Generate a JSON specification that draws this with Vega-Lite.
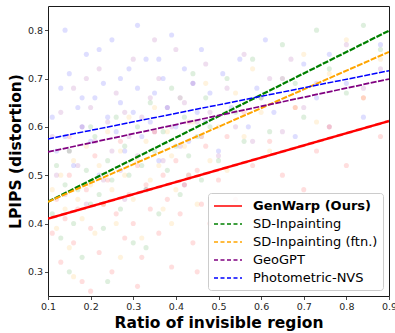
{
  "$schema": "https://vega.github.io/schema/vega-lite/v6.json",
  "width": 341,
  "height": 290,
  "autosize": "none",
  "padding": {"left": 48, "top": 6, "right": 6, "bottom": 37},
  "background": "white",
  "config": {
    "view": {"stroke": "#1a1a1a", "strokeWidth": 1},
    "font": "DejaVu Sans",
    "axis": {
      "grid": false,
      "domain": false,
      "labelFlush": false,
      "tickColor": "#1a1a1a",
      "tickSize": 3.5,
      "tickWidth": 0.8,
      "labelFont": "DejaVu Sans",
      "labelFontSize": 9.5,
      "labelColor": "#262626",
      "labelPadding": 2,
      "titleFont": "DejaVu Sans",
      "titleFontSize": 15.5,
      "titleFontWeight": "bold",
      "titleColor": "black"
    }
  },
  "datasets": {
    "pts": [
      {"m":"B","x":0.11,"y":0.62},{"m":"B","x":0.12,"y":0.55},{"m":"B","x":0.13,"y":0.68},{"m":"B","x":0.14,"y":0.58},{"m":"B","x":0.15,"y":0.71},{"m":"B","x":0.16,"y":0.52},{"m":"B","x":0.17,"y":0.64},{"m":"B","x":0.18,"y":0.6},{"m":"B","x":0.19,"y":0.75},{"m":"B","x":0.2,"y":0.57},{"m":"B","x":0.21,"y":0.66},{"m":"B","x":0.22,"y":0.5},{"m":"B","x":0.23,"y":0.69},{"m":"B","x":0.24,"y":0.62},{"m":"B","x":0.25,"y":0.78},{"m":"B","x":0.26,"y":0.59},{"m":"B","x":0.27,"y":0.65},{"m":"B","x":0.28,"y":0.55},{"m":"B","x":0.29,"y":0.72},{"m":"B","x":0.3,"y":0.63},{"m":"B","x":0.31,"y":0.68},{"m":"B","x":0.32,"y":0.58},{"m":"B","x":0.33,"y":0.74},{"m":"B","x":0.34,"y":0.61},{"m":"B","x":0.35,"y":0.67},{"m":"B","x":0.36,"y":0.53},{"m":"B","x":0.37,"y":0.7},{"m":"B","x":0.38,"y":0.64},{"m":"B","x":0.39,"y":0.79},{"m":"B","x":0.4,"y":0.6},{"m":"B","x":0.41,"y":0.66},{"m":"B","x":0.42,"y":0.72},{"m":"B","x":0.43,"y":0.57},{"m":"B","x":0.44,"y":0.69},{"m":"B","x":0.45,"y":0.63},{"m":"B","x":0.46,"y":0.76},{"m":"B","x":0.47,"y":0.61},{"m":"B","x":0.48,"y":0.67},{"m":"B","x":0.5,"y":0.55},{"m":"B","x":0.51,"y":0.71},{"m":"B","x":0.53,"y":0.64},{"m":"B","x":0.55,"y":0.74},{"m":"B","x":0.57,"y":0.6},{"m":"B","x":0.59,"y":0.68},{"m":"B","x":0.61,"y":0.78},{"m":"B","x":0.63,"y":0.63},{"m":"B","x":0.65,"y":0.7},{"m":"B","x":0.68,"y":0.58},{"m":"B","x":0.7,"y":0.73},{"m":"B","x":0.73,"y":0.66},{"m":"B","x":0.76,"y":0.75},{"m":"B","x":0.8,"y":0.69},{"m":"B","x":0.84,"y":0.62},{"m":"B","x":0.88,"y":0.77},{"m":"B","x":0.14,"y":0.8},{"m":"B","x":0.22,"y":0.76},{"m":"B","x":0.31,"y":0.81},{"m":"B","x":0.18,"y":0.66},{"m":"B","x":0.27,"y":0.7},{"m":"B","x":0.36,"y":0.74},
      {"m":"P","x":0.11,"y":0.58},{"m":"P","x":0.12,"y":0.5},{"m":"P","x":0.13,"y":0.63},{"m":"P","x":0.14,"y":0.46},{"m":"P","x":0.15,"y":0.55},{"m":"P","x":0.16,"y":0.68},{"m":"P","x":0.17,"y":0.52},{"m":"P","x":0.18,"y":0.6},{"m":"P","x":0.19,"y":0.44},{"m":"P","x":0.2,"y":0.64},{"m":"P","x":0.21,"y":0.57},{"m":"P","x":0.22,"y":0.72},{"m":"P","x":0.23,"y":0.49},{"m":"P","x":0.24,"y":0.61},{"m":"P","x":0.25,"y":0.55},{"m":"P","x":0.26,"y":0.67},{"m":"P","x":0.27,"y":0.51},{"m":"P","x":0.28,"y":0.63},{"m":"P","x":0.29,"y":0.58},{"m":"P","x":0.3,"y":0.74},{"m":"P","x":0.31,"y":0.54},{"m":"P","x":0.32,"y":0.62},{"m":"P","x":0.33,"y":0.47},{"m":"P","x":0.34,"y":0.66},{"m":"P","x":0.35,"y":0.59},{"m":"P","x":0.36,"y":0.7},{"m":"P","x":0.37,"y":0.53},{"m":"P","x":0.38,"y":0.64},{"m":"P","x":0.39,"y":0.6},{"m":"P","x":0.4,"y":0.76},{"m":"P","x":0.41,"y":0.56},{"m":"P","x":0.42,"y":0.65},{"m":"P","x":0.43,"y":0.5},{"m":"P","x":0.44,"y":0.69},{"m":"P","x":0.45,"y":0.61},{"m":"P","x":0.46,"y":0.58},{"m":"P","x":0.47,"y":0.73},{"m":"P","x":0.48,"y":0.63},{"m":"P","x":0.5,"y":0.54},{"m":"P","x":0.52,"y":0.68},{"m":"P","x":0.54,"y":0.6},{"m":"P","x":0.56,"y":0.75},{"m":"P","x":0.58,"y":0.57},{"m":"P","x":0.6,"y":0.66},{"m":"P","x":0.62,"y":0.7},{"m":"P","x":0.65,"y":0.59},{"m":"P","x":0.67,"y":0.74},{"m":"P","x":0.7,"y":0.64},{"m":"P","x":0.73,"y":0.69},{"m":"P","x":0.76,"y":0.6},{"m":"P","x":0.8,"y":0.77},{"m":"P","x":0.84,"y":0.68},{"m":"P","x":0.88,"y":0.72},{"m":"P","x":0.19,"y":0.7},{"m":"P","x":0.28,"y":0.45},{"m":"P","x":0.35,"y":0.78},{"m":"P","x":0.42,"y":0.48},
      {"m":"G","x":0.11,"y":0.42},{"m":"G","x":0.12,"y":0.52},{"m":"G","x":0.13,"y":0.37},{"m":"G","x":0.14,"y":0.48},{"m":"G","x":0.15,"y":0.55},{"m":"G","x":0.16,"y":0.4},{"m":"G","x":0.17,"y":0.47},{"m":"G","x":0.18,"y":0.33},{"m":"G","x":0.19,"y":0.51},{"m":"G","x":0.2,"y":0.44},{"m":"G","x":0.21,"y":0.58},{"m":"G","x":0.22,"y":0.46},{"m":"G","x":0.23,"y":0.39},{"m":"G","x":0.24,"y":0.53},{"m":"G","x":0.25,"y":0.49},{"m":"G","x":0.26,"y":0.62},{"m":"G","x":0.27,"y":0.43},{"m":"G","x":0.28,"y":0.56},{"m":"G","x":0.29,"y":0.5},{"m":"G","x":0.3,"y":0.36},{"m":"G","x":0.31,"y":0.6},{"m":"G","x":0.32,"y":0.52},{"m":"G","x":0.33,"y":0.47},{"m":"G","x":0.34,"y":0.65},{"m":"G","x":0.35,"y":0.55},{"m":"G","x":0.36,"y":0.42},{"m":"G","x":0.37,"y":0.59},{"m":"G","x":0.38,"y":0.51},{"m":"G","x":0.39,"y":0.68},{"m":"G","x":0.4,"y":0.56},{"m":"G","x":0.41,"y":0.46},{"m":"G","x":0.42,"y":0.62},{"m":"G","x":0.43,"y":0.54},{"m":"G","x":0.44,"y":0.71},{"m":"G","x":0.45,"y":0.58},{"m":"G","x":0.46,"y":0.49},{"m":"G","x":0.47,"y":0.66},{"m":"G","x":0.48,"y":0.6},{"m":"G","x":0.5,"y":0.53},{"m":"G","x":0.52,"y":0.7},{"m":"G","x":0.54,"y":0.63},{"m":"G","x":0.56,"y":0.57},{"m":"G","x":0.58,"y":0.74},{"m":"G","x":0.6,"y":0.66},{"m":"G","x":0.62,"y":0.59},{"m":"G","x":0.65,"y":0.77},{"m":"G","x":0.68,"y":0.69},{"m":"G","x":0.7,"y":0.62},{"m":"G","x":0.73,"y":0.8},{"m":"G","x":0.76,"y":0.72},{"m":"G","x":0.8,"y":0.67},{"m":"G","x":0.84,"y":0.81},{"m":"G","x":0.88,"y":0.76},{"m":"G","x":0.15,"y":0.3},{"m":"G","x":0.24,"y":0.28},{"m":"G","x":0.33,"y":0.35},{"m":"G","x":0.2,"y":0.6},
      {"m":"O","x":0.11,"y":0.47},{"m":"O","x":0.12,"y":0.39},{"m":"O","x":0.13,"y":0.5},{"m":"O","x":0.14,"y":0.43},{"m":"O","x":0.15,"y":0.35},{"m":"O","x":0.16,"y":0.53},{"m":"O","x":0.17,"y":0.45},{"m":"O","x":0.18,"y":0.41},{"m":"O","x":0.19,"y":0.56},{"m":"O","x":0.2,"y":0.48},{"m":"O","x":0.21,"y":0.38},{"m":"O","x":0.22,"y":0.52},{"m":"O","x":0.23,"y":0.44},{"m":"O","x":0.24,"y":0.59},{"m":"O","x":0.25,"y":0.47},{"m":"O","x":0.26,"y":0.4},{"m":"O","x":0.27,"y":0.55},{"m":"O","x":0.28,"y":0.5},{"m":"O","x":0.29,"y":0.62},{"m":"O","x":0.3,"y":0.45},{"m":"O","x":0.31,"y":0.53},{"m":"O","x":0.32,"y":0.37},{"m":"O","x":0.33,"y":0.57},{"m":"O","x":0.34,"y":0.49},{"m":"O","x":0.35,"y":0.64},{"m":"O","x":0.36,"y":0.52},{"m":"O","x":0.37,"y":0.43},{"m":"O","x":0.38,"y":0.59},{"m":"O","x":0.39,"y":0.54},{"m":"O","x":0.4,"y":0.47},{"m":"O","x":0.41,"y":0.66},{"m":"O","x":0.42,"y":0.56},{"m":"O","x":0.43,"y":0.5},{"m":"O","x":0.44,"y":0.61},{"m":"O","x":0.45,"y":0.44},{"m":"O","x":0.46,"y":0.58},{"m":"O","x":0.47,"y":0.69},{"m":"O","x":0.48,"y":0.53},{"m":"O","x":0.5,"y":0.6},{"m":"O","x":0.52,"y":0.51},{"m":"O","x":0.54,"y":0.67},{"m":"O","x":0.56,"y":0.58},{"m":"O","x":0.58,"y":0.72},{"m":"O","x":0.6,"y":0.63},{"m":"O","x":0.62,"y":0.55},{"m":"O","x":0.65,"y":0.7},{"m":"O","x":0.68,"y":0.64},{"m":"O","x":0.7,"y":0.75},{"m":"O","x":0.73,"y":0.61},{"m":"O","x":0.76,"y":0.71},{"m":"O","x":0.8,"y":0.78},{"m":"O","x":0.84,"y":0.66},{"m":"O","x":0.88,"y":0.74},{"m":"O","x":0.16,"y":0.29},{"m":"O","x":0.27,"y":0.33},{"m":"O","x":0.39,"y":0.4},
      {"m":"R","x":0.11,"y":0.38},{"m":"R","x":0.12,"y":0.45},{"m":"R","x":0.13,"y":0.32},{"m":"R","x":0.14,"y":0.41},{"m":"R","x":0.15,"y":0.5},{"m":"R","x":0.16,"y":0.36},{"m":"R","x":0.17,"y":0.43},{"m":"R","x":0.18,"y":0.28},{"m":"R","x":0.19,"y":0.47},{"m":"R","x":0.2,"y":0.39},{"m":"R","x":0.21,"y":0.54},{"m":"R","x":0.22,"y":0.34},{"m":"R","x":0.23,"y":0.44},{"m":"R","x":0.24,"y":0.49},{"m":"R","x":0.25,"y":0.3},{"m":"R","x":0.26,"y":0.42},{"m":"R","x":0.27,"y":0.57},{"m":"R","x":0.28,"y":0.37},{"m":"R","x":0.29,"y":0.46},{"m":"R","x":0.3,"y":0.4},{"m":"R","x":0.31,"y":0.52},{"m":"R","x":0.32,"y":0.33},{"m":"R","x":0.33,"y":0.48},{"m":"R","x":0.34,"y":0.43},{"m":"R","x":0.35,"y":0.59},{"m":"R","x":0.36,"y":0.38},{"m":"R","x":0.37,"y":0.5},{"m":"R","x":0.38,"y":0.45},{"m":"R","x":0.39,"y":0.31},{"m":"R","x":0.4,"y":0.53},{"m":"R","x":0.41,"y":0.42},{"m":"R","x":0.42,"y":0.48},{"m":"R","x":0.43,"y":0.61},{"m":"R","x":0.44,"y":0.36},{"m":"R","x":0.45,"y":0.51},{"m":"R","x":0.46,"y":0.44},{"m":"R","x":0.47,"y":0.56},{"m":"R","x":0.48,"y":0.4},{"m":"R","x":0.5,"y":0.49},{"m":"R","x":0.52,"y":0.58},{"m":"R","x":0.54,"y":0.45},{"m":"R","x":0.56,"y":0.63},{"m":"R","x":0.58,"y":0.52},{"m":"R","x":0.6,"y":0.41},{"m":"R","x":0.62,"y":0.57},{"m":"R","x":0.65,"y":0.5},{"m":"R","x":0.68,"y":0.64},{"m":"R","x":0.7,"y":0.47},{"m":"R","x":0.73,"y":0.55},{"m":"R","x":0.76,"y":0.6},{"m":"R","x":0.8,"y":0.52},{"m":"R","x":0.84,"y":0.66},{"m":"R","x":0.88,"y":0.58},{"m":"R","x":0.2,"y":0.26},{"m":"R","x":0.31,"y":0.27},{"m":"R","x":0.45,"y":0.3},{"m":"R","x":0.6,"y":0.33},{"m":"R","x":0.7,"y":0.36},{"m":"R","x":0.15,"y":0.58}
    ],
    "fits": [
      {"method":"GenWarp (Ours)","x":0.1,"y":0.41},{"method":"GenWarp (Ours)","x":0.9,"y":0.612},
      {"method":"SD-Inpainting","x":0.1,"y":0.445},{"method":"SD-Inpainting","x":0.9,"y":0.799},
      {"method":"SD-Inpainting (ftn.)","x":0.1,"y":0.445},{"method":"SD-Inpainting (ftn.)","x":0.9,"y":0.755},
      {"method":"GeoGPT","x":0.1,"y":0.548},{"method":"GeoGPT","x":0.9,"y":0.699},
      {"method":"Photometric-NVS","x":0.1,"y":0.575},{"method":"Photometric-NVS","x":0.9,"y":0.716}
    ]
  },
  "layer": [
    {
      "data": {"name": "pts"},
      "mark": {"type": "circle", "size": 26, "opacity": 0.13, "clip": true},
      "encoding": {
        "x": {"field": "x", "type": "quantitative", "scale": {"domain": [0.1, 0.9], "nice": false, "zero": false},
              "axis": {"values": [0.1,0.2,0.3,0.4,0.5,0.6,0.7,0.8,0.9], "format": ".1f", "title": "Ratio of invisible region", "titlePadding": 4}},
        "y": {"field": "y", "type": "quantitative", "scale": {"domain": [0.25, 0.85], "nice": false, "zero": false},
              "axis": {"values": [0.3,0.4,0.5,0.6,0.7,0.8], "format": ".1f", "title": "LPIPS (distortion)", "titlePadding": 4}},
        "color": {"field": "m", "type": "nominal", "legend": null,
                  "scale": {"domain": ["R","G","O","P","B"], "range": ["red","green","orange","purple","blue"]}}
      }
    },
    {
      "data": {"name": "fits"},
      "mark": {"type": "line", "clip": true},
      "encoding": {
        "x": {"field": "x", "type": "quantitative"},
        "y": {"field": "y", "type": "quantitative"},
        "color": {"field": "method", "type": "nominal",
                  "scale": {"domain": ["GenWarp (Ours)","SD-Inpainting","SD-Inpainting (ftn.)","GeoGPT","Photometric-NVS"],
                            "range": ["red","green","orange","purple","blue"]},
                  "legend": {
                    "title": null,
                    "orient": "bottom-right",
                    "offset": 6,
                    "padding": 5,
                    "strokeColor": "#cccccc",
                    "fillColor": "rgba(255,255,255,0.85)",
                    "cornerRadius": 3,
                    "labelFont": "DejaVu Sans",
                    "labelFontSize": 13,
                    "labelColor": "black",
                    "symbolType": "M-2,0H2",
                    "symbolSize": 196,
                    "symbolOffset": 7,
                    "labelOffset": 17,
                    "symbolStrokeWidth": 1.5,
                    "rowPadding": 3,
                    "encode": {
                      "labels": {"update": {"fontWeight": {"signal": "datum.label == 'GenWarp (Ours)' ? 'bold' : 'normal'"}}},
                      "symbols": {"update": {"strokeDash": {"signal": "datum.label == 'GenWarp (Ours)' ? [1,0] : [4,2.5]"}}}
                    }
                  }},
        "strokeDash": {"field": "method", "type": "nominal",
                  "scale": {"domain": ["GenWarp (Ours)","SD-Inpainting","SD-Inpainting (ftn.)","GeoGPT","Photometric-NVS"],
                            "range": [[1,0],[6,1.5],[6,1.5],[6,1.5],[6,1.5]]}},
        "strokeWidth": {"field": "method", "type": "nominal",
                  "scale": {"domain": ["GenWarp (Ours)","SD-Inpainting","SD-Inpainting (ftn.)","GeoGPT","Photometric-NVS"],
                            "range": [2.5,1.5,1.5,1.5,1.5]}}
      }
    }
  ],
  "resolve": {"scale": {"color": "independent"}}
}
